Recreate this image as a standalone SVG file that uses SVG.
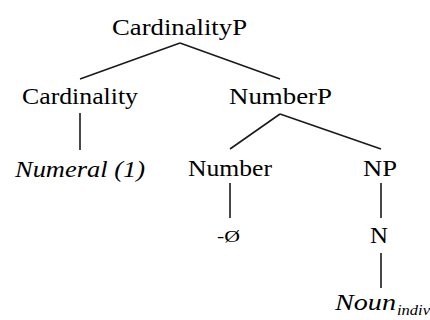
<svg xmlns="http://www.w3.org/2000/svg" width="430" height="320" viewBox="0 0 430 320">
  <style>
    .lbl { font-size: 23px; }
    .it { font-size: 23px; font-style: italic; }
    .small { font-size: 16px; }
    .sub { font-size: 14px; font-style: italic; }
    .edge { stroke: #1a1a1a; stroke-width: 1.6; fill: none; }
  </style>
  <rect width="430" height="320" fill="#ffffff"/>

  <!-- tree branches -->
  <g id="connectors">
    <line class="edge" x1="180" y1="43" x2="80" y2="79"/>
    <line class="edge" x1="180" y1="43" x2="280" y2="79"/>
    <line class="edge" x1="80" y1="113" x2="80" y2="150"/>
    <line class="edge" x1="280" y1="114" x2="230" y2="149"/>
    <line class="edge" x1="280" y1="114" x2="381" y2="149"/>
    <line class="edge" x1="230" y1="183" x2="230" y2="218"/>
    <line class="edge" x1="381" y1="183" x2="381" y2="218"/>
    <line class="edge" x1="381" y1="253" x2="381" y2="288"/>
  </g>

  <!-- node labels -->
  <g font-family="Liberation Serif, serif">
    <g id="cardinalityP"><text class="lbl" x="112" y="35" textLength="135" lengthAdjust="spacingAndGlyphs">CardinalityP</text></g>
    <g id="cardinality"><text class="lbl" x="22" y="104" textLength="116" lengthAdjust="spacingAndGlyphs">Cardinality</text></g>
    <g id="numberP"><text class="lbl" x="229" y="104" textLength="103" lengthAdjust="spacingAndGlyphs">NumberP</text></g>
    <g id="numeral"><text class="it" x="15" y="177" textLength="130" lengthAdjust="spacingAndGlyphs">Numeral (1)</text></g>
    <g id="number"><text class="lbl" x="188" y="176" textLength="84" lengthAdjust="spacingAndGlyphs">Number</text></g>
    <g id="np"><text class="lbl" x="363" y="176" textLength="34" lengthAdjust="spacingAndGlyphs">NP</text></g>
    <g id="null-morpheme"><text class="small" x="217" y="242" textLength="23" lengthAdjust="spacingAndGlyphs">-Ø</text></g>
    <g id="n"><text class="lbl" x="370" y="243" textLength="18" lengthAdjust="spacingAndGlyphs">N</text></g>
    <g id="noun-indiv">
      <text class="it" x="335" y="310" textLength="61" lengthAdjust="spacingAndGlyphs">Noun</text>
      <text class="sub" x="397" y="315" textLength="33" lengthAdjust="spacingAndGlyphs">indiv</text>
    </g>
  </g>
</svg>
